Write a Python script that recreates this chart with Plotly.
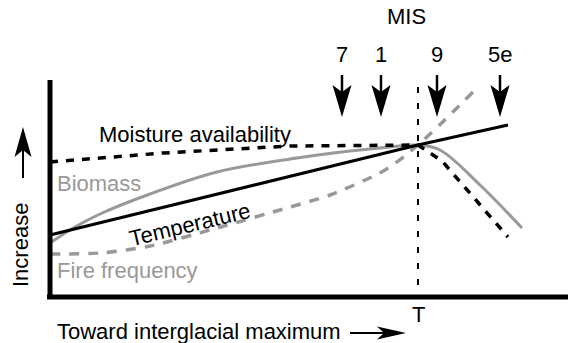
import plotly.graph_objects as go

# Conceptual axes: x = progress toward interglacial maximum, y = relative increase
threshold_x = 368          # position of threshold "T"
axis_top = 217             # top of the vertical axis
x_axis_end = 518

# Series
temp_x = [0, 368, 458]
temp_y = [62, 152, 172]

moist_x = [0, 113, 240, 368, 392, 458]
moist_y = [135, 144, 151, 152, 136, 60]

bio_x = [0, 25, 50, 100, 167, 247, 300, 340, 368, 390, 430, 472]
bio_y = [54, 70, 83, 103, 125, 139, 146, 150, 152, 147, 112, 69]

fire_x = [0, 50, 100, 167, 240, 280, 335, 368, 424]
fire_y = [43, 44, 51, 69, 90, 102, 127, 152, 206]

# Marine isotope stages marked with arrows
mis_labels = ["7", "1", "9", "5e"]
mis_x = [292, 331, 387, 450]
mis_arrow_top = 222
mis_arrow_tip = 180
mis_label_y = 243

BLACK = "#000000"
GRAY = "#999999"
FONT = "Liberation Sans, Arial, sans-serif"
FS = 22

fig = go.Figure()

fig.add_trace(go.Scatter(x=fire_x, y=fire_y, mode="lines",
                         line=dict(color=GRAY, width=3.5, dash="10px,9px", shape="spline", smoothing=0.8)))
fig.add_trace(go.Scatter(x=bio_x, y=bio_y, mode="lines",
                         line=dict(color=GRAY, width=3, shape="spline", smoothing=1.0)))
fig.add_trace(go.Scatter(x=temp_x, y=temp_y, mode="lines",
                         line=dict(color=BLACK, width=3)))
fig.add_trace(go.Scatter(x=moist_x, y=moist_y, mode="lines",
                         line=dict(color=BLACK, width=3.5, dash="8px,8px")))

shapes = []
# axes
shapes.append(dict(type="line", xref="x", yref="y", x0=0, x1=0, y0=-2, y1=axis_top,
                   line=dict(color=BLACK, width=5)))
shapes.append(dict(type="line", xref="x", yref="y", x0=-3, x1=x_axis_end, y0=0, y1=0,
                   line=dict(color=BLACK, width=5)))
# threshold line
shapes.append(dict(type="line", xref="x", yref="y", x0=threshold_x, x1=threshold_x, y0=12, y1=212,
                   line=dict(color=BLACK, width=2, dash="6px,10px")))

# MIS arrows
for xm in mis_x:
    shapes.append(dict(type="line", xref="x", yref="y", x0=xm, x1=xm,
                       y0=mis_arrow_top, y1=mis_arrow_tip + 12, line=dict(color=BLACK, width=2.5)))
    shapes.append(dict(type="path", xref="x", yref="y", xsizemode="pixel", ysizemode="pixel",
                       xanchor=xm, yanchor=mis_arrow_tip,
                       path="M0,0 L-9.5,32 L0,25 L9.5,32 Z",
                       fillcolor=BLACK, line=dict(color=BLACK, width=0)))

# "Increase" up arrow
shapes.append(dict(type="line", xref="x", yref="y", x0=-27, x1=-27, y0=119, y1=160,
                   line=dict(color=BLACK, width=2)))
shapes.append(dict(type="path", xref="x", yref="y", xsizemode="pixel", ysizemode="pixel",
                   xanchor=-27, yanchor=170,
                   path="M0,0 L-8.5,-30 L0,-23 L8.5,-30 Z",
                   fillcolor=BLACK, line=dict(color=BLACK, width=0)))
# "Toward interglacial maximum" right arrow
shapes.append(dict(type="line", xref="x", yref="y", x0=300, x1=346, y0=-36, y1=-36,
                   line=dict(color=BLACK, width=2)))
shapes.append(dict(type="path", xref="x", yref="y", xsizemode="pixel", ysizemode="pixel",
                   xanchor=356, yanchor=-36,
                   path="M0,0 L-29,6.5 L-22,0 L-29,-6.5 Z",
                   fillcolor=BLACK, line=dict(color=BLACK, width=0)))

ann = []
def txt(x, y, s, color=BLACK, xanchor="center", angle=0):
    ann.append(dict(x=x, y=y, xref="x", yref="y", text=s, showarrow=False,
                    xanchor=xanchor, yanchor="middle", textangle=angle,
                    font=dict(family=FONT, size=FS, color=color)))

txt(356, 281, "MIS")
for lab, xm in zip(mis_labels, mis_x):
    txt(xm, mis_label_y, lab)
txt(47, 163, "Moisture availability", xanchor="left")
txt(5, 114, "Biomass", color=GRAY, xanchor="left")
txt(5, 27, "Fire frequency", color=GRAY, xanchor="left")
txt(140, 73, "Temperature", angle=-13.5)
txt(-30, 52, "Increase", angle=-90)
txt(5, -34, "Toward interglacial maximum", xanchor="left")
txt(threshold_x, -17, "T")

fig.update_layout(
    width=568, height=343, autosize=False,
    margin=dict(l=0, r=0, t=0, b=0),
    paper_bgcolor="white", plot_bgcolor="white",
    showlegend=False,
    xaxis=dict(visible=False, range=[-50, 518], fixedrange=True),
    yaxis=dict(visible=False, range=[-46, 297], fixedrange=True),
    shapes=shapes, annotations=ann,
    hovermode=False,
)

fig.write_html("out.html", config={"displayModeBar": False},
               post_script="document.body.style.margin='0';document.body.style.overflow='hidden';")
